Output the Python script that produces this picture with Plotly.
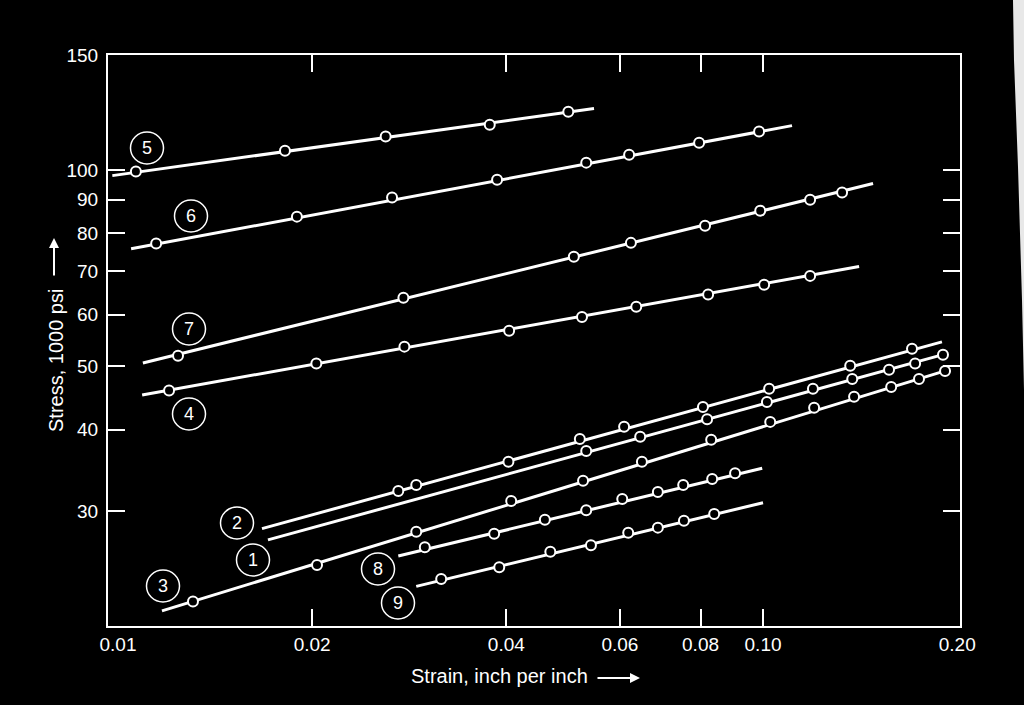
import math
import plotly.graph_objects as go

# ---------------- data ----------------
curve_ids = ["1", "2", "3", "4", "5", "6", "7", "8", "9"]

c1_x = [0.0532, 0.0645, 0.0819, 0.1014, 0.1195, 0.1375, 0.1568, 0.1721, 0.1901]
c1_y = [37.1, 39.0, 41.5, 44.1, 46.2, 47.8, 49.4, 50.5, 52.1]
c2_x = [0.0272, 0.0290, 0.0403, 0.0520, 0.0609, 0.0807, 0.1022, 0.1365, 0.1702]
c2_y = [32.2, 32.9, 35.7, 38.7, 40.4, 43.3, 46.2, 50.1, 53.2]
c3_x = [0.01307, 0.02035, 0.0290, 0.0407, 0.0526, 0.0649, 0.0831, 0.1026, 0.1200,
        0.1384, 0.1580, 0.1745, 0.1915]
c3_y = [21.8, 24.8, 27.9, 31.1, 33.4, 35.7, 38.6, 41.1, 43.2, 44.9, 46.5, 47.8, 49.2]
c4_x = [0.0120, 0.0203, 0.0278, 0.0404, 0.0524, 0.0636, 0.0822, 0.1004, 0.1183]
c4_y = [45.9, 50.5, 53.6, 56.7, 59.5, 61.7, 64.4, 66.7, 68.8]
c5_x = [0.01066, 0.01815, 0.0260, 0.0377, 0.0499]
c5_y = [99.4, 107.0, 112.5, 117.3, 122.8]
c6_x = [0.01146, 0.01894, 0.0266, 0.0387, 0.0532, 0.0620, 0.0796, 0.0986]
c6_y = [77.1, 84.8, 90.7, 96.6, 102.6, 105.5, 110.1, 114.5]
c7_x = [0.01239, 0.0277, 0.0509, 0.0624, 0.0813, 0.0990, 0.1183, 0.1326]
c7_y = [51.9, 63.7, 73.6, 77.3, 82.1, 86.6, 90.0, 92.3]
c8_x = [0.0299, 0.0383, 0.0459, 0.0532, 0.0605, 0.0687, 0.0752, 0.0834, 0.0905]
c8_y = [26.4, 27.7, 29.1, 30.1, 31.3, 32.1, 32.9, 33.6, 34.3]
c9_x = [0.0317, 0.0390, 0.0468, 0.0541, 0.0618, 0.0687, 0.0754, 0.0840]
c9_y = [23.6, 24.6, 26.0, 26.6, 27.8, 28.3, 29.0, 29.7]

# fitted straight lines (log-log): start / end points per curve
line_start_x = [0.01708, 0.01672, 0.0117, 0.0109, 0.0098, 0.01048, 0.01093, 0.0272, 0.0290]
line_start_y = [27.1, 28.2, 21.1, 45.2, 98.0, 75.7, 50.6, 25.6, 23.0]
line_end_x = [0.1901, 0.1894, 0.1915, 0.1409, 0.0547, 0.1109, 0.1481, 0.0997, 0.1000]
line_end_y = [52.1, 54.5, 49.2, 71.1, 124.2, 116.9, 95.3, 34.9, 30.9]

x_tickvals = [0.01, 0.02, 0.04, 0.06, 0.08, 0.10, 0.20]
x_ticktext = ["0.01", "0.02", "0.04", "0.06", "0.08", "0.10", "0.20"]
y_tickvals = [30, 40, 50, 60, 70, 80, 90, 100, 150]
y_ticktext = ["30", "40", "50", "60", "70", "80", "90", "100", "150"]

pts_x = [c1_x, c2_x, c3_x, c4_x, c5_x, c6_x, c7_x, c8_x, c9_x]
pts_y = [c1_y, c2_y, c3_y, c4_y, c5_y, c6_y, c7_y, c8_y, c9_y]

# ---------------- layout geometry ----------------
W, H = 1024, 705
L, R, T, B = 108, 64, 55, 79
PW, PH = W - L - R, H - T - B


def px(xp):
    return (xp - L) / PW


def py(yp):
    return (H - B - yp) / PH


FONT = "Liberation Sans, Arial, Helvetica, sans-serif"

fig = go.Figure()
for i, cid in enumerate(curve_ids):
    fig.add_trace(go.Scatter(
        x=[line_start_x[i], line_end_x[i]], y=[line_start_y[i], line_end_y[i]],
        mode="lines", line=dict(color="white", width=3),
        showlegend=False, hoverinfo="skip"))
    fig.add_trace(go.Scatter(
        x=pts_x[i], y=pts_y[i], mode="markers", name="Curve " + cid,
        marker=dict(symbol="circle", size=10, color="black",
                    line=dict(color="white", width=2)),
        showlegend=False))

# circled curve labels (pixel centres)
label_pos = {"5": (147, 148), "6": (191, 216), "7": (189, 329), "4": (189, 414),
             "2": (237, 523), "1": (253, 560), "3": (163, 586), "8": (378, 569),
             "9": (398, 603)}
shapes = []
annotations = []
for cid, (lx, ly) in label_pos.items():
    shapes.append(dict(type="circle", xref="paper", yref="paper",
                       xsizemode="pixel", ysizemode="pixel",
                       xanchor=px(lx), yanchor=py(ly),
                       x0=-16.5, x1=16.5, y0=-16, y1=16,
                       line=dict(color="white", width=1.5)))
    annotations.append(dict(x=px(lx), y=py(ly), xref="paper", yref="paper",
                            xanchor="center", yanchor="middle",
                            text=cid, showarrow=False,
                            font=dict(family=FONT, size=18, color="white")))

# axis titles with arrows
annotations.append(dict(x=px(56), y=py(361), xref="paper", yref="paper",
                        xanchor="center", yanchor="middle",
                        text="Stress, 1000 psi", textangle=-90, showarrow=False,
                        font=dict(family=FONT, size=20, color="white")))
annotations.append(dict(x=px(54), y=py(238), xref="paper", yref="paper",
                        text="", showarrow=True, ax=0, ay=39,
                        arrowhead=2, arrowsize=1, arrowwidth=2, arrowcolor="white"))
annotations.append(dict(x=px(499), y=py(676), xref="paper", yref="paper",
                        xanchor="center", yanchor="middle",
                        text="Strain, inch per inch", showarrow=False,
                        font=dict(family=FONT, size=20, color="white")))
annotations.append(dict(x=px(640), y=py(678), xref="paper", yref="paper",
                        text="", showarrow=True, ax=-44, ay=0,
                        arrowhead=2, arrowsize=1, arrowwidth=2, arrowcolor="white"))

# scan edge artefact on the right
pts = [(1013, 0), (1024, 0), (1024, 390), (1022, 300), (1018, 167), (1014, 60)]
path = "M " + " L ".join(f"{px(a):.5f},{py(b):.5f}" for a, b in pts) + " Z"
shapes.append(dict(type="path", xref="paper", yref="paper", path=path,
                   fillcolor="#e8e8e8", line=dict(width=0)))

fig.update_layout(
    width=W, height=H,
    margin=dict(l=L, r=R, t=T, b=B, pad=0),
    paper_bgcolor="black", plot_bgcolor="black",
    font=dict(family=FONT, color="white", size=19),
    shapes=shapes, annotations=annotations,
    xaxis=dict(type="log", range=[math.log10(0.00965), math.log10(0.202)],
               tickvals=x_tickvals, ticktext=x_ticktext, ticks="",
               showline=True, linecolor="white", linewidth=2, mirror="ticks",
               showgrid=False, zeroline=False, ticklabelstandoff=0,
               tickfont=dict(family=FONT, size=19, color="white"),
               minor=dict(tickvals=[0.02, 0.04, 0.06, 0.08, 0.10], ticks="inside",
                          ticklen=17, tickwidth=2, tickcolor="white", showgrid=False)),
    yaxis=dict(type="log", range=[math.log10(20), math.log10(150)],
               tickvals=y_tickvals, ticktext=y_ticktext, ticks="inside",
               ticklen=17, tickwidth=2, tickcolor="white",
               showline=True, linecolor="white", linewidth=2, mirror="ticks",
               showgrid=False, zeroline=False, ticklabelstandoff=4,
               tickfont=dict(family=FONT, size=19, color="white")),
)

fig.write_html("out.html")
